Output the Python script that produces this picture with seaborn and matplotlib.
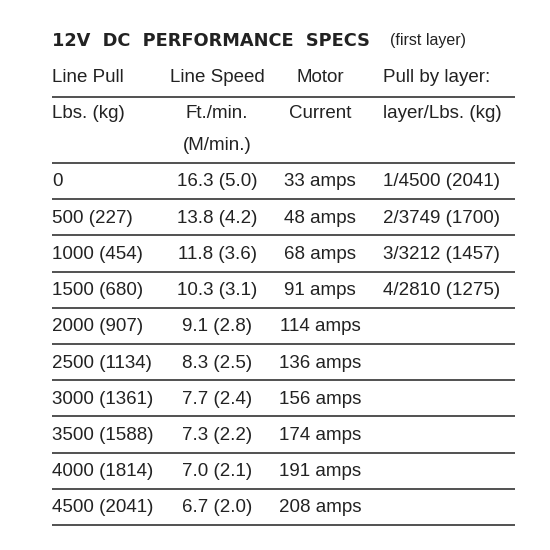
import matplotlib
matplotlib.use("Agg")
import matplotlib.pyplot as plt
import seaborn as sns

# ------------------ Data ------------------
title = "12V DC PERFORMANCE SPECS"
subtitle = "(first layer)"
header1 = ["Line Pull", "Line Speed", "Motor", "Pull by layer:"]
header2 = ["Lbs. (kg)", "Ft./min.", "Current", "layer/Lbs. (kg)"]
header3 = ["", "(M/min.)", "", ""]
line_pull = ["0", "500 (227)", "1000 (454)", "1500 (680)", "2000 (907)", "2500 (1134)",
             "3000 (1361)", "3500 (1588)", "4000 (1814)", "4500 (2041)"]
line_speed = ["16.3 (5.0)", "13.8 (4.2)", "11.8 (3.6)", "10.3 (3.1)", "9.1 (2.8)", "8.3 (2.5)",
              "7.7 (2.4)", "7.3 (2.2)", "7.0 (2.1)", "6.7 (2.0)"]
motor_current = ["33 amps", "48 amps", "68 amps", "91 amps", "114 amps", "136 amps",
                 "156 amps", "174 amps", "191 amps", "208 amps"]
pull_by_layer = ["1/4500 (2041)", "2/3749 (1700)", "3/3212 (1457)", "4/2810 (1275)"]

sns.set_theme(style="white")
plt.rcParams['font.family'] = ['Liberation Sans', 'DejaVu Sans']

fig = plt.figure(figsize=(5.5, 5.5), dpi=100)
ax = fig.add_axes([0, 0, 1, 1])
ax.set_xlim(0, 550)
ax.set_ylim(550, 0)
ax.axis("off")

FS = 13.5
col_x = [52, 217, 320, 383]
col_ha = ["left", "center", "center", "left"]
ink = "#222222"

ax.text(52, 41, "  ".join(title.split(" ")), fontsize=12.8, fontweight="bold", color=ink,
        va="center", ha="left", family=["DejaVu Sans"])
ax.text(390, 41, subtitle, fontsize=11.5, color=ink, va="center", ha="left")

for y, row in [(78, header1), (113, header2), (146, header3)]:
    for x, ha, s in zip(col_x, col_ha, row):
        ax.text(x, y, s, fontsize=FS, color=ink, va="center", ha=ha)

y0, dy = 182, 36.2
for i in range(len(line_pull)):
    y = y0 + i * dy
    cells = [line_pull[i], line_speed[i], motor_current[i],
             pull_by_layer[i] if i < len(pull_by_layer) else ""]
    for x, ha, s in zip(col_x, col_ha, cells):
        ax.text(x, y, s, fontsize=FS, color=ink, va="center", ha=ha)

lines_y = [97, 163] + [163 + 36.2 * (k + 1) for k in range(len(line_pull))]
ax.hlines(lines_y, 52, 515, color="#333333", lw=1.2)

fig.savefig("out.png", dpi=100, facecolor="white")
